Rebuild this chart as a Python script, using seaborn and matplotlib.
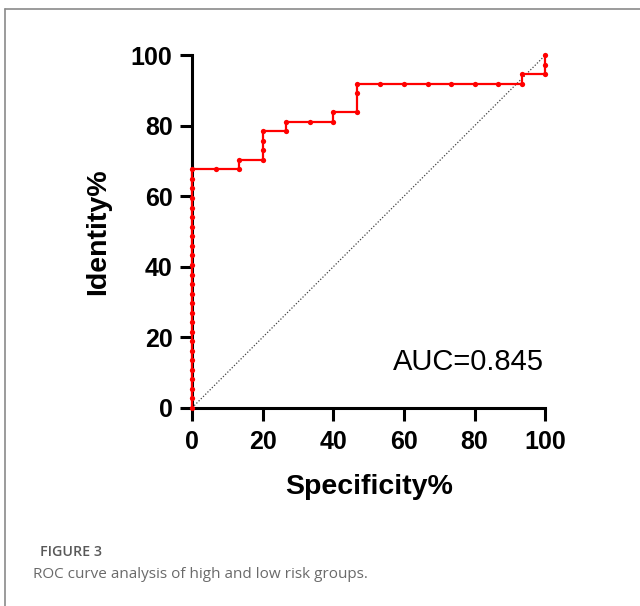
import matplotlib
matplotlib.use("Agg")
import matplotlib.pyplot as plt
import numpy as np
import pandas as pd
import seaborn as sns
from matplotlib.lines import Line2D

# ROC points (percent)
specificity = [0] * 26 + [6.7, 13.3, 13.3, 20, 20, 20, 20, 26.7, 26.7, 33.3, 40, 40,
                          46.7, 46.7, 46.7, 53.3, 60, 66.7, 73.3, 80, 86.7, 93.3, 93.3,
                          100, 100, 100]
identity = [0, 2.7, 5.4, 8.1, 10.8, 13.5, 16.2, 18.9, 21.6, 24.3, 27.0, 29.7, 32.4,
            35.1, 37.8, 40.5, 43.2, 45.9, 48.6, 51.4, 54.1, 56.8, 59.5, 62.2, 64.9, 67.6,
            67.6, 67.6, 70.3, 70.3, 73.0, 75.7, 78.4, 78.4, 81.1, 81.1, 81.1, 83.8,
            83.8, 89.2, 91.9, 91.9, 91.9, 91.9, 91.9, 91.9, 91.9, 91.9, 94.6,
            94.6, 97.3, 100]
ref_line = [0, 100]
ticks = [0, 20, 40, 60, 80, 100]
auc_label = "AUC=0.845"
caption_head = "FIGURE 3"
caption_text = "ROC curve analysis of high and low risk groups."

sns.set_style("ticks")
plt.rcParams['font.family'] = ['Liberation Sans', 'DejaVu Sans']
plt.rcParams['text.color'] = 'black'
plt.rcParams['axes.labelcolor'] = 'black'
plt.rcParams['xtick.color'] = 'black'
plt.rcParams['ytick.color'] = 'black'

df = pd.DataFrame({"Specificity": specificity, "Identity": identity})

fig = plt.figure(figsize=(6.4, 6.06), dpi=100)
ax = fig.add_axes([0.3, 0.327, 0.552, 0.582])

ax.plot(ref_line, ref_line, linestyle=(0, (1, 1.5)), color='#444444', linewidth=0.9)
sns.lineplot(data=df, x="Specificity", y="Identity", sort=False, estimator=None,
             color='#ff0000', linewidth=1.6, marker='o', markersize=3.8,
             markeredgewidth=0, ax=ax, clip_on=False, zorder=3)

ax.set_xlim(0, 100)
ax.set_ylim(0, 100)
ax.set_xticks(ticks)
ax.set_yticks(ticks)
ax.set_xticklabels([str(t) for t in ticks], fontsize=18, fontweight='bold')
ax.set_yticklabels([str(t) for t in ticks], fontsize=18, fontweight='bold')
ax.tick_params(axis='both', length=9, width=2.2, color='black', labelcolor='black',
               direction='out')
ax.tick_params(axis='x', pad=7)
ax.tick_params(axis='y', pad=5)
for side in ['top', 'right']:
    ax.spines[side].set_visible(False)
for side in ['left', 'bottom']:
    ax.spines[side].set_linewidth(2.2)
    ax.spines[side].set_color('black')

ax.set_xlabel("Specificity%", fontsize=20.5, fontweight='bold', labelpad=14, color='black')
ax.set_ylabel("Identity%", fontsize=20.5, fontweight='bold', labelpad=14, color='black')
ax.text(57, 10.8, auc_label, fontsize=21, ha='left', va='baseline', color='black')

# caption and frame
fig.text(40 / 640, 1 - 556 / 606, caption_head, fontsize=10.3, color='#595959',
         family=['Open Sans', 'DejaVu Sans'], fontweight='semibold',
         ha='left', va='baseline')
fig.text(33 / 640, 1 - 578 / 606, caption_text, fontsize=11, color='#6a6a6a',
         family=['Open Sans', 'DejaVu Sans'], ha='left', va='baseline')
fig.add_artist(Line2D([5 / 640, 1], [1 - 8.5 / 606, 1 - 8.5 / 606],
                      transform=fig.transFigure, color='#8a8a8a', linewidth=1.2))
fig.add_artist(Line2D([5 / 640, 5 / 640], [0, 1 - 8.5 / 606],
                      transform=fig.transFigure, color='#8a8a8a', linewidth=1.2))

fig.savefig("out.png", dpi=100)
